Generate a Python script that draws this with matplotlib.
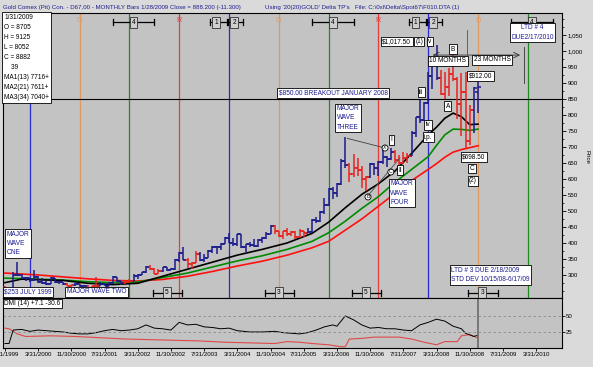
import calendar
import numpy as np
import matplotlib
matplotlib.use("Agg")
import matplotlib.pyplot as plt
from matplotlib.ticker import MultipleLocator, FuncFormatter

plt.rcParams['font.family'] = ['Liberation Sans', 'DejaVu Sans']

# ---- monthly bars, Jul 1999 .. Jan 2009 ----
first_month = "1999-07"
opens = [262, 255, 255, 300, 300, 292,
         289, 283, 293, 279, 274, 273, 289, 277, 278, 273, 265, 270,
         273, 266, 267, 258, 264, 267, 271, 266, 274, 293, 280, 275,
         279, 282, 297, 301, 309, 326, 318, 304, 313, 324, 317, 318,
         347, 368, 348, 335, 336, 364, 346, 354, 375, 388, 386, 398,
         416, 400, 397, 427, 388, 396, 395, 391, 410, 416, 429, 454,
         438, 423, 436, 428, 435, 418, 437, 430, 434, 473, 470, 496,
         518, 569, 556, 584, 655, 645, 616, 634, 627, 601, 607, 646,
         635, 652, 669, 663, 683, 659, 650, 667, 673, 743, 794, 783,
         838, 923, 972, 916, 866, 887, 928, 913, 833, 871, 718, 816,
         870.5]
highs = [264, 258, 310, 339, 302, 294,
         292, 316, 296, 289, 280, 293, 291, 282, 279, 275, 270, 276,
         273, 270, 270, 267, 293, 277, 272, 277, 296, 294, 281, 281,
         286, 303, 304, 310, 328, 332, 322, 318, 326, 325, 322, 349,
         372, 389, 353, 341, 374, 371, 366, 377, 392, 390, 400, 419,
         430, 417, 428, 428, 398, 403, 411, 414, 418, 434, 456, 457,
         439, 438, 446, 439, 437, 443, 437, 447, 475, 480, 499, 541,
         573, 575, 588, 661, 730, 650, 677, 667, 640, 609, 650, 649,
         657, 690, 672, 698, 692, 674, 683, 682, 749, 795, 848, 842,
         933, 975, 1017.5, 942, 936, 948, 991, 919, 931, 935, 830, 889,
         912.5]
lows = [253, 252, 254, 296, 288, 280,
        279, 282, 276, 271, 270, 272, 276, 272, 270, 264, 263, 267,
        263, 255, 255, 255, 263, 266, 265, 266, 272, 277, 270, 272,
        276, 281, 288, 300, 306, 314, 303, 302, 310, 312, 315, 317,
        342, 346, 321, 319, 336, 343, 341, 352, 370, 366, 377, 397,
        399, 391, 391, 385, 371, 387, 386, 388, 399, 411, 427, 428,
        419, 412, 423, 421, 414, 416, 418, 430, 433, 461, 467, 490,
        516, 538, 543, 580, 634, 590, 606, 610, 573, 562, 604, 612,
        608, 648, 636, 660, 650, 642, 648, 649, 673, 731, 775, 780,
        834, 882, 910, 863, 849, 860, 906, 787, 736, 698.5, 705, 745,
        805.2]
closes = [255, 255, 299, 300, 292, 289,
          283, 293, 279, 274, 273, 289, 277, 278, 273, 265, 270, 273,
          266, 267, 258, 264, 267, 271, 266, 274, 293, 280, 275, 279,
          282, 297, 301, 309, 326, 318, 304, 313, 324, 317, 318, 347,
          368, 348, 335, 336, 364, 346, 354, 375, 388, 386, 398, 416,
          400, 397, 427, 388, 396, 395, 391, 410, 416, 429, 454, 438,
          423, 436, 428, 435, 418, 437, 430, 434, 473, 470, 496, 518,
          569, 556, 584, 655, 645, 616, 634, 627, 601, 607, 646, 635,
          652, 669, 663, 683, 659, 650, 667, 673, 743, 794, 783, 838,
          923, 972, 916, 866, 887, 928, 913, 833, 871, 718, 816, 883,
          888.2]

# months shown as down-trend (red) bars
down_spans = [("1999-07", "1999-08"), ("2000-10", "2000-11"), ("2001-03", "2001-05"),
              ("2001-12", "2002-01"), ("2002-06", "2002-08"), ("2003-03", "2003-05"),
              ("2004-12", "2005-07"), ("2006-06", "2006-10"), ("2007-05", "2007-08"),
              ("2008-04", "2008-11")]

# moving averages
ma_dates = ["1999-07", "1999-11", "2000-03", "2000-09", "2001-03", "2001-09", "2002-03",
            "2002-09", "2003-03", "2003-09", "2004-03", "2004-09", "2005-03", "2005-09",
            "2006-01", "2006-05", "2006-09", "2007-01", "2007-05", "2007-09", "2008-01",
            "2008-03", "2008-05", "2008-07", "2008-09", "2008-11", "2009-01"]
ma13 = [276, 287, 285, 283, 274, 270, 274, 296, 318, 340, 362, 380, 400, 430,
        465, 510, 552, 585, 625, 680, 738, 762, 790, 806, 795, 770, 771.6]
ma21 = [290, 289, 287, 284, 279, 276, 278, 292, 306, 325, 344, 360, 380, 405,
        432, 468, 508, 545, 590, 630, 670, 705, 738, 756, 755, 752, 756]
ma34 = [306, 303, 300, 294, 288, 283, 281, 286, 296, 311, 328, 343, 362, 385,
        405, 440, 475, 515, 555, 595, 630, 648, 668, 684, 692, 698, 704]

# DMI(14) panel
dmi_black_dates = ["1999-07", "1999-08", "1999-09", "1999-11", "2000-01", "2000-03", "2000-05",
                   "2000-07", "2000-09", "2000-11", "2001-01", "2001-03", "2001-05", "2001-07",
                   "2001-09", "2001-11", "2002-01", "2002-03", "2002-05", "2002-07", "2002-09",
                   "2002-11", "2003-01", "2003-03", "2003-05", "2003-07", "2003-09", "2003-11",
                   "2004-01", "2004-03", "2004-06", "2004-09", "2004-12", "2005-02", "2005-04",
                   "2005-06", "2005-08", "2005-10", "2005-12", "2006-02", "2006-03", "2006-05",
                   "2006-07", "2006-09", "2006-11", "2007-01", "2007-03", "2007-05", "2007-07",
                   "2007-09", "2007-11", "2008-01", "2008-03", "2008-05", "2008-07", "2008-09",
                   "2008-10", "2008-12", "2009-01"]
dmi_black = [7, 7, 28, 29, 26, 28, 27, 26, 25, 23, 22, 22, 24, 27, 29, 27, 28, 30, 36, 31,
             30, 28, 40, 36, 37, 33, 32, 30, 31, 27, 25, 25, 26, 24, 23, 22, 24, 28, 33, 36,
             34, 50, 44, 36, 31, 32, 30, 30, 28, 27, 36, 40, 45, 42, 34, 30, 23, 18, 20]
dmi_red_dates = ["1999-07", "1999-08", "1999-10", "1999-12", "2000-06", "2000-12", "2001-06",
                 "2001-12", "2002-06", "2002-12", "2003-06", "2003-12", "2004-06", "2004-12",
                 "2005-03", "2005-06", "2005-09", "2006-01", "2006-04", "2006-05", "2006-06",
                 "2006-09", "2006-12", "2007-06", "2007-09", "2007-12", "2008-03", "2008-05",
                 "2008-08", "2008-09", "2008-11", "2009-01"]
dmi_red = [31, 30, 22, 18, 19, 18, 16, 14, 13, 12, 11, 9, 8, 7, 10, 9, 7, 5, 2, 2, 14,
           15, 17, 17, 14, 9, 5, 10, 10, 19, 21, 15.6]

# time-cycle dates (one per January)
cycle_dates = ["2000-01", "2001-01", "2002-01", "2003-01", "2004-01", "2005-01",
               "2006-01", "2007-01", "2008-01", "2009-01", "2010-01"]
cycle_kinds = ["12", "O", "4", "R", "12", "O", "4", "R", "12", "O", "4"]
bottom_marks = [("5", "2002-10"), ("3", "2005-01"), ("5", "2006-10"), ("3", "2009-02")]

breakout_level = 850
info_lines = ["1/31/2009", "O = 8705", "H = 9125", "L = 8052", "C = 8882", "    39",
              "MA1(13) 7716+", "MA2(21) 7611+", "MA3(34) 7040+"]


def mi(s):
    y, m = s.split("-")
    return (int(y) - 1999) * 12 + int(m) - 1


BLUE_BAR = "#1a1a8e"
RED_BAR = "#e8231e"
TXT_BLUE = "#1c1c90"
FS = 4.4
LFS = 4.7

fig = plt.figure(figsize=(5.93, 3.67), dpi=100, facecolor="#dadada")
ax = fig.add_axes([3/593, 1-298/367, 559/593, 285/367], facecolor="#c3c3c3")
ax2 = fig.add_axes([3/593, 1-348/367, 559/593, 50/367], facecolor="#c3c3c3")

x = np.arange(len(closes)) + mi(first_month)
down = np.zeros(len(closes), bool)
for a, b in down_spans:
    down |= (x >= mi(a)) & (x <= mi(b))
cols = np.where(down, RED_BAR, BLUE_BAR)

# cycle lines + markers
kind_color = {"12": "#2a2ad2", "O": "#e09a60", "4": "#1f8a1f", "R": "#e63c3c"}
box_style = dict(boxstyle="square,pad=0.3", fc="#cfcfcf", ec="#303030", lw=0.6)


def bracket(x0, x1, y, label, xb, dy=9):
    ax.plot([x0, x1], [y, y], color="k", lw=0.9, zorder=5)
    ax.plot([x0, x0], [y-dy, y+dy], color="k", lw=0.9, zorder=5)
    ax.plot([x1, x1], [y-dy, y+dy], color="k", lw=0.9, zorder=5)
    ax.text(xb, y, label, ha="center", va="center", fontsize=LFS, bbox=box_style, zorder=6)


for d, k in zip(cycle_dates, cycle_kinds):
    m = mi(d)
    ax.axvline(m, color=kind_color[k], lw=0.9, zorder=1)
    if m < 20:
        continue  # first cycle's tags sit under the info box
    if k in ("O", "R"):
        ax.text(m, 1097, k, color=kind_color[k], ha="center", va="center", fontsize=LFS + 0.3)
    elif k == "4":
        bracket(m - 4, m + 6, 1090, "4", m + 1)
    else:
        bracket(m - 4.6, m - 0.5, 1090, "1", m - 3.1)
        bracket(m - 0.2, m + 3.4, 1090, "2", m + 1.2)

for lab, d in bottom_marks:
    m = mi(d)
    bracket(m - 3.3, m + 3.7, 244, lab, m)

ax.axhline(breakout_level, color="k", lw=0.8, zorder=2)

# moving averages
mx = [mi(d) for d in ma_dates]
ax.plot(mx, ma34, color="#ff1010", lw=1.2, zorder=3)
ax.plot(mx, ma21, color="#008a00", lw=1.2, zorder=3)
ax.plot(mx, ma13, color="black", lw=1.2, zorder=3)

# OHLC bars
ax.vlines(x, lows, highs, colors=cols, lw=1.1, zorder=4)
ax.hlines(opens, x - 0.75, x, colors=cols, lw=1.1, zorder=4)
ax.hlines(closes, x, x + 0.75, colors=cols, lw=1.1, zorder=4)

# trendlines of the wave-four triangle
ax.plot([mi("2006-05") + 0.5, 97.6], [727, 697], color="#404040", lw=0.6, zorder=5)
ax.plot([93.5, 101.2], [548, 666], color="#505050", lw=0.6, zorder=5)

wbox = dict(boxstyle="square,pad=0.22", fc="white", ec="black", lw=0.6)
cbox = dict(boxstyle="circle,pad=0.1", fc="white", ec="black", lw=0.6)


def label(xv, yv, s, ha="center", color="black", bbox=wbox, fs=LFS, **kw):
    ax.text(xv, yv, s, ha=ha, va="center", fontsize=fs, color=color, bbox=bbox,
            zorder=7, linespacing=1.45, **kw)


label(72, 868, "$850.00 BREAKOUT JANUARY 2008", ha="left", color=TXT_BLUE)
label(6.4, 398, "MAJOR\nWAVE\nONE", ha="left", color=TXT_BLUE)
label(5.9, 247, "$253 JULY 1999", ha="left", color=TXT_BLUE)
label(20.9, 247, "MAJOR WAVE TWO", ha="left", color=TXT_BLUE)
label(85.9, 791, "MAJOR\nWAVE\nTHREE", ha="left", color=TXT_BLUE)
label(98.9, 556, "MAJOR\nWAVE\nFOUR", ha="left", color=TXT_BLUE)
label(99.2, 723, "I")
label(101.2, 628, "II")
label(97.6, 697, "X", bbox=cbox, fs=3.7)
label(99.0, 622, "C", bbox=cbox, fs=3.7)
label(93.5, 544, "B", bbox=cbox, fs=3.7)
label(106.3, 872, "iii")
label(108.0, 769, "iv")
label(108.0, 730, "i.p.")
label(112.7, 827, "A")
label(114.0, 1006, "B")
label(112.7, 969, "10 MONTHS")
label(123.4, 973, "23 MONTHS")
label(120.6, 923, "$912.00")
label(119.0, 670, "$698.50")
label(118.6, 633, "C")
label(118.8, 594, "(2)")
label(100.4, 1030, "$1,017.50")
label(105.8, 1030, "(1)")
label(108.4, 1030, "v")
label(133.1, 1058, "LTD # 4\nDUE2/17/2010", color=TXT_BLUE)
label(113.5, 300, "LTD # 3 DUE 2/18/2009\nSTD DEV 10/15/08-6/17/09", ha="left", color=TXT_BLUE)

ax.annotate("", xy=(130.8, 987.5), xytext=(108.4, 987.5),
            arrowprops=dict(arrowstyle="<->", lw=0.6, color="#303030"), zorder=5)
ax.plot([131.1, 131.1], [1012, 900], color="#303030", lw=0.6, zorder=5)
ax.plot([117.3, 117.3], [1065, 987.5], color="#505050", lw=0.6, zorder=5)

ax.text(0.002, 0.996, "\n".join(info_lines), transform=ax.transAxes, ha="left", va="top",
        fontsize=LFS, linespacing=1.6,
        bbox=dict(boxstyle="square,pad=0.3", fc="white", ec="black", lw=0.6), zorder=8)

# axes formatting
ax.set_xlim(5.54, 140.24)
ax.set_ylim(228, 1119)
ax.yaxis.tick_right()
ax.set_yticks(np.arange(300, 1051, 50))
ax.yaxis.set_major_formatter(FuncFormatter(lambda v, p: f"{int(v):,}"))
ax.yaxis.set_minor_locator(MultipleLocator(25))
ax.tick_params(axis="y", which="major", direction="out", length=3, width=0.6, labelsize=FS, pad=1)
ax.tick_params(axis="y", which="minor", direction="out", length=1.5, width=0.5)
ax.tick_params(axis="x", bottom=False, labelbottom=False)
for s in ax.spines.values():
    s.set_linewidth(0.8)

# DMI panel
ax2.plot([mi(d) for d in dmi_red_dates], dmi_red, color="#e04848", lw=0.8)
ax2.plot([mi(d) for d in dmi_black_dates], dmi_black, color="black", lw=0.7)
for lv in (25, 50):
    ax2.axhline(lv, color="#8a8a8a", lw=0.6, ls=(0, (3, 3)))
ax2.axvline(120, color="#707070", lw=1.3)
ax2.set_xlim(5.54, 140.24)
ax2.set_ylim(0, 78)
ax2.yaxis.tick_right()
ax2.set_yticks([25, 50])
ax2.tick_params(axis="y", direction="out", length=2, width=0.6, labelsize=FS, pad=1)
xt = np.arange(6, 135, 8)
xl = [f"{m % 12 + 1}/{calendar.monthrange(1999 + m // 12, m % 12 + 1)[1]}/{1999 + m // 12}" for m in xt]
ax2.set_xticks(xt)
ax2.set_xticklabels(xl)
ax2.tick_params(axis="x", direction="out", length=2, width=0.6, labelsize=FS, pad=1)
for s in ax2.spines.values():
    s.set_linewidth(0.8)
ax2.text(0.002, 0.96, "DMI (14) +7.1 -30.6", transform=ax2.transAxes, ha="left", va="top",
         fontsize=LFS, bbox=dict(boxstyle="square,pad=0.2", fc="white", ec="black", lw=0.6))

fig.text(3/593, 1-7/367, "Gold Comex (Pit) Con. - D67,00 - MONTHLY Bars 1/28/2009 Close = 888.200 (-11.300)",
         fontsize=FS, color=TXT_BLUE, va="center")
fig.text(265/593, 1-7/367, "Using '20(20)GOLD' Delta TP's", fontsize=FS, color=TXT_BLUE, va="center")
fig.text(355/593, 1-7/367, "File: C:\\0xl\\Delta\\Spot67\\F010.DTA (1)", fontsize=FS, color=TXT_BLUE, va="center")
fig.text(587/593, 1-157/367, "Price", rotation=270, fontsize=FS, ha="center", va="center")

fig.savefig("out.png", dpi=100, facecolor=fig.get_facecolor())
